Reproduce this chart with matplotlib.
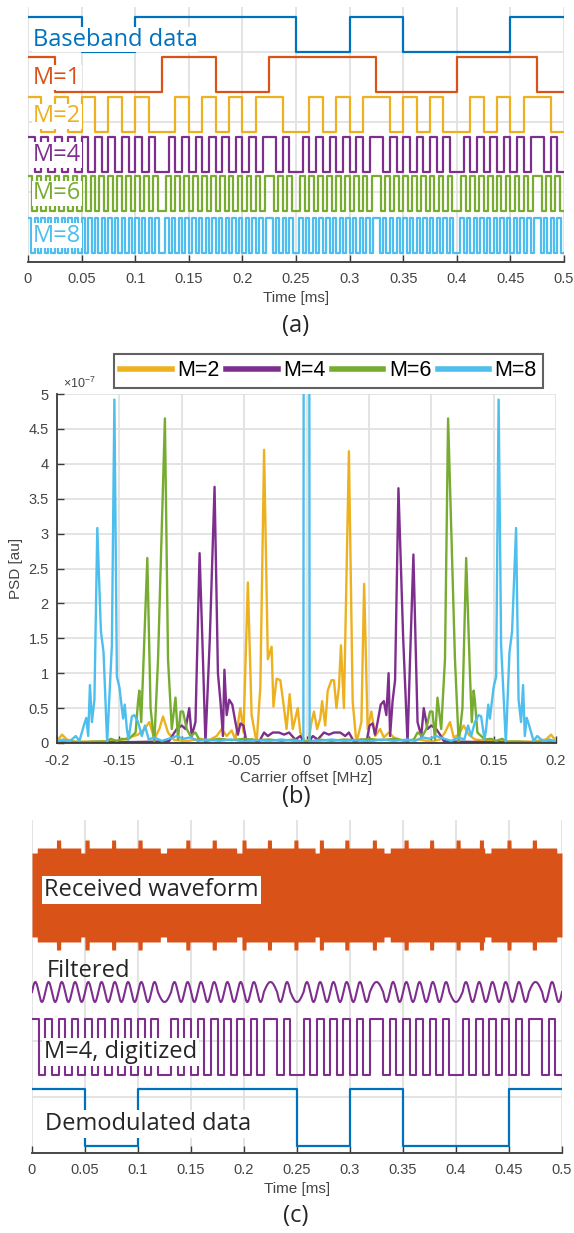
import numpy as np
import matplotlib
matplotlib.use('Agg')
import matplotlib.pyplot as plt
from matplotlib.lines import Line2D

plt.rcParams['mathtext.fontset'] = 'custom'
plt.rcParams['mathtext.rm'] = 'Liberation Sans'

# ---------------- data ----------------
time_ticks = [0, 0.05, 0.1, 0.15, 0.2, 0.25, 0.3, 0.35, 0.4, 0.45, 0.5]
time_ticklabels = ['0', '0.05', '0.1', '0.15', '0.2', '0.25', '0.3', '0.35', '0.4', '0.45', '0.5']
freq_ticks = [-0.2, -0.15, -0.1, -0.05, 0, 0.05, 0.1, 0.15, 0.2]
freq_ticklabels = ['-0.2', '-0.15', '-0.1', '-0.05', '0', '0.05', '0.1', '0.15', '0.2']
psd_ticks = [0, 0.5, 1, 1.5, 2, 2.5, 3, 3.5, 4, 4.5, 5]
psd_ticklabels = ['0', '0.5', '1', '1.5', '2', '2.5', '3', '3.5', '4', '4.5', '5']

# logic levels per equal time slot over 0..0.5 ms
baseband_bits = "1011101001"
m1_levels = "10000110011110001110"
m2_levels = "1010101010010101011001010110101001010110"
m4_levels = ("10101010101010101010" "0101010101010101" "1010" "010101010101"
             "101010101010" "010101010101" "1010")
m6_levels = ("101010101010101010101010101010" "010101010101010101010101" "101010"
             "010101010101010101" "101010101010101010" "010101010101010101" "101010")
m8_levels = ("1010101010101010101010101010101010101010" "01010101010101010101010101010101"
             "10101010" "010101010101010101010101" "101010101010101010101010"
             "010101010101010101010101" "10101010")
m4_digitized = ("10101010101010101010" "0101010101010101" "1010" "010101010101"
                "101010101010" "010101010101" "1010")
demod_bits = "1011101001"

# PSD (units of 1e-7) vs carrier offset (MHz)
m2_f = [-0.2, -0.196, -0.192, -0.186, -0.17, -0.15, -0.142, -0.135, -0.13, -0.126, -0.122, -0.118, -0.115, -0.111,
        -0.106, -0.095, -0.085, -0.078, -0.072, -0.068, -0.064, -0.06, -0.057, -0.053, -0.0505, -0.047, -0.044, -0.04,
        -0.037, -0.034, -0.031, -0.028, -0.0265, -0.024, -0.021, -0.018, -0.016, -0.0135, -0.011, -0.009, -0.007,
        -0.005, -0.002, 0.0, 0.002, 0.004, 0.006, 0.0085, 0.011, 0.0125, 0.015, 0.017, 0.02, 0.022, 0.024, 0.026,
        0.0276, 0.03, 0.034, 0.037, 0.04, 0.044, 0.0462, 0.049, 0.052, 0.055, 0.059, 0.062, 0.066, 0.07, 0.078,
        0.09, 0.1, 0.107, 0.111, 0.115, 0.118, 0.122, 0.126, 0.13, 0.135, 0.145, 0.16, 0.18, 0.192, 0.196, 0.2]
m2_p = [0.02, 0.12, 0.05, 0.02, 0.02, 0.03, 0.08, 0.12, 0.2, 0.3, 0.06, 0.2, 0.38, 0.15,
        0.04, 0.03, 0.06, 0.04, 0.1, 0.2, 0.1, 0.18, 0.05, 0.5, 0.15, 2.3, 0.4, 0.0,
        0.8, 4.2, 1.2, 1.38, 0.52, 0.92, 0.9, 0.5, 0.2, 0.7, 0.2, 0.35, 0.5,
        0.15, 0.05, 0.0, 0.06, 0.3, 0.45, 0.2, 0.35, 0.6, 0.25, 0.75, 0.9, 0.9, 0.5, 0.8,
        1.4, 0.5, 4.18, 0.6, 0.0, 0.3, 2.28, 0.2, 0.45, 0.1, 0.2, 0.08, 0.15, 0.08, 0.03,
        0.05, 0.02, 0.05, 0.15, 0.3, 0.08, 0.12, 0.25, 0.12, 0.05, 0.03, 0.02, 0.02, 0.05, 0.12, 0.03]

m4_f = [-0.2, -0.15, -0.12, -0.11, -0.107, -0.104, -0.1, -0.097, -0.094, -0.092, -0.089, -0.0857, -0.083, -0.081,
        -0.0775, -0.0737, -0.071, -0.069, -0.067, -0.0658, -0.064, -0.062, -0.0595, -0.057, -0.055, -0.053, -0.0505,
        -0.048, -0.044, -0.038, -0.034, -0.031, -0.027, -0.022, -0.018, -0.014, -0.009, -0.005, -0.0015,
        0.0015, 0.005, 0.009, 0.014, 0.018, 0.022, 0.027, 0.031, 0.034, 0.038, 0.044, 0.048, 0.0505, 0.053, 0.055,
        0.057, 0.0595, 0.062, 0.064, 0.0658, 0.067, 0.069, 0.071, 0.0737, 0.0775, 0.081, 0.083, 0.0857, 0.089,
        0.092, 0.094, 0.097, 0.1, 0.104, 0.107, 0.11, 0.12, 0.15, 0.2]
m4_p = [0.01, 0.01, 0.02, 0.03, 0.12, 0.2, 0.25, 0.2, 0.5, 0.1, 0.3, 2.72, 1.2, 0.0,
        1.5, 3.67, 1.0, 0.6, 0.1, 1.05, 0.4, 0.62, 0.55, 0.3, 0.12, 0.28, 0.25,
        0.0, 0.05, 0.02, 0.15, 0.1, 0.15, 0.15, 0.12, 0.15, 0.05, 0.1, 0.0,
        0.0, 0.1, 0.05, 0.15, 0.12, 0.15, 0.15, 0.1, 0.15, 0.02, 0.05, 0.0, 0.25, 0.28, 0.12,
        0.3, 0.55, 0.6, 0.4, 1.0, 0.1, 0.6, 0.9, 3.65, 1.5, 0.0, 1.2, 2.7, 0.3,
        0.1, 0.5, 0.2, 0.25, 0.2, 0.12, 0.03, 0.02, 0.01, 0.01]

m6_f = [-0.2, -0.19, -0.18, -0.17, -0.16, -0.157, -0.152, -0.148, -0.143, -0.14, -0.137, -0.135, -0.134, -0.1325,
        -0.131, -0.1276, -0.125, -0.122, -0.119, -0.1135, -0.111, -0.108, -0.105, -0.103, -0.101, -0.099, -0.096,
        -0.093, -0.089, -0.086, -0.08, -0.07, -0.06, -0.05, -0.04, -0.03, -0.02, -0.01, -0.003,
        0.003, 0.01, 0.02, 0.03, 0.04, 0.05, 0.06, 0.07, 0.08, 0.086, 0.089, 0.093, 0.096, 0.099, 0.101, 0.103,
        0.105, 0.108, 0.111, 0.1135, 0.119, 0.122, 0.125, 0.128, 0.131, 0.1325, 0.134, 0.135, 0.137, 0.14, 0.143,
        0.148, 0.152, 0.157, 0.16, 0.17, 0.18, 0.19, 0.2]
m6_p = [0.01, 0.02, 0.01, 0.02, 0.02, 0.06, 0.03, 0.06, 0.05, 0.1, 0.15, 0.6, 0.75, 0.3,
        1.0, 2.65, 0.5, 0.0, 1.2, 4.65, 1.2, 0.2, 0.65, 0.05, 0.45, 0.45, 0.2,
        0.1, 0.15, 0.05, 0.03, 0.06, 0.04, 0.06, 0.04, 0.05, 0.03, 0.05, 0.02,
        0.02, 0.05, 0.03, 0.05, 0.04, 0.06, 0.04, 0.06, 0.03, 0.05, 0.15, 0.1, 0.2, 0.45, 0.45, 0.05,
        0.65, 0.2, 1.2, 4.65, 1.2, 0.0, 0.5, 2.65, 1.0, 0.3, 0.75, 0.6, 0.15, 0.1, 0.05,
        0.06, 0.03, 0.06, 0.02, 0.02, 0.01, 0.02, 0.01]

m8_f = [-0.2, -0.195, -0.19, -0.185, -0.182, -0.178, -0.1765, -0.175, -0.1736, -0.172, -0.17, -0.1677, -0.1648,
        -0.1627, -0.1598, -0.156, -0.154, -0.152, -0.15, -0.147, -0.1457, -0.144, -0.1427, -0.14, -0.138, -0.135,
        -0.132, -0.1295, -0.1265, -0.122, -0.116, -0.107, -0.104, -0.099, -0.093, -0.087, -0.081, -0.07, -0.06,
        -0.05, -0.04, -0.03, -0.02, -0.01, -0.0025, 0.0, 0.0025, 0.01, 0.02, 0.03, 0.04, 0.05, 0.06, 0.07, 0.081,
        0.087, 0.093, 0.099, 0.104, 0.107, 0.116, 0.122, 0.1265, 0.1295, 0.132, 0.135, 0.138, 0.14, 0.1427, 0.144,
        0.1457, 0.147, 0.15, 0.152, 0.154, 0.156, 0.1598, 0.1627, 0.1648, 0.168, 0.17, 0.172, 0.1736, 0.175, 0.1765,
        0.178, 0.182, 0.185, 0.19, 0.195, 0.2]
m8_p = [0.02, 0.05, 0.02, 0.1, 0.03, 0.28, 0.36, 0.1, 0.83, 0.3, 0.62, 3.08, 1.6,
        1.3, 0.0, 1.4, 4.92, 0.95, 0.8, 0.35, 0.55, 0.2, 0.05, 0.38, 0.4, 0.3,
        0.1, 0.25, 0.05, 0.08, 0.03, 0.08, 0.1, 0.06, 0.08, 0.03, 0.05, 0.03, 0.05,
        0.02, 0.04, 0.03, 0.05, 0.03, 0.02, 60.0, 0.02, 0.03, 0.05, 0.03, 0.04, 0.02, 0.05, 0.03, 0.05,
        0.03, 0.08, 0.06, 0.1, 0.08, 0.03, 0.08, 0.05, 0.25, 0.1, 0.3, 0.4, 0.38, 0.05, 0.2,
        0.55, 0.35, 0.8, 0.95, 4.92, 1.4, 0.0, 1.3, 1.6, 3.08, 0.62, 0.3, 0.83, 0.1, 0.36,
        0.28, 0.03, 0.1, 0.02, 0.05, 0.02]

# received waveform envelope: spike instants and envelope notches (ms)
recv_spikes = [0.025, 0.052, 0.077, 0.102, 0.147, 0.172, 0.2, 0.224, 0.249, 0.273, 0.297, 0.323,
               0.353, 0.377, 0.402, 0.424, 0.45, 0.474]
recv_dips = [0.002, 0.049, 0.124, 0.196, 0.27, 0.335, 0.43, 0.498]

# ---------------- style ----------------
W, H = 574, 1233
fig = plt.figure(figsize=(W / 100, H / 100), dpi=100)

BLUE = '#0072BD'; RED = '#D95319'; YEL = '#EDB120'; PUR = '#7E2F8E'; GRN = '#77AC30'; CYAN = '#4DBEEE'
GRID = '#e2e2e2'; AXC = '#3a3a3a'; TXT = '#262626'; TCK = '#444444'
TF = ['Liberation Sans', 'DejaVu Sans']
LF = ['Open Sans', 'DejaVu Sans']


def add_ax(l, t, r, b):
    return fig.add_axes([l / W, 1 - b / H, (r - l) / W, (b - t) / H])


def time_axis(ax):
    ax.set_xlim(0, 0.5)
    ax.set_xticks(time_ticks)
    ax.set_xticklabels(time_ticklabels, fontfamily=TF, fontsize=10.5, color=TCK)
    for s in ['left', 'right', 'top']:
        ax.spines[s].set_visible(False)
    ax.spines['bottom'].set_color(AXC)
    ax.spines['bottom'].set_linewidth(1.3)
    ax.tick_params(axis='x', direction='in', length=5, width=1.0, color=AXC, pad=7)
    ax.tick_params(axis='y', left=False, labelleft=False)
    ax.grid(True, color=GRID, linewidth=1.3)
    ax.set_axisbelow(True)
    ax.set_xlabel('Time [ms]', fontfamily=TF, fontsize=11, color=TCK, labelpad=4)


def step_sig(ax, s, lo, color, lw=1.6, amp=1.0):
    v = [int(c) for c in s]
    t = np.linspace(0, 0.5, len(v) + 1)
    ax.step(t, amp * np.array(v + [v[-1]]) + lo, where='post', color=color, lw=lw, zorder=2)


def label(ax, x, y, txt, color):
    ax.text(x, y, txt, color=color, fontfamily=LF, fontsize=17, va='center', ha='left', zorder=5,
            bbox=dict(facecolor='white', edgecolor='none', pad=0.5))

# ---------------- panel (a) ----------------
axa = add_ax(28, 7, 564, 262)
time_axis(axa)
axa.set_ylim(0, 7.29)
axa.set_yticks([0, 2, 4, 6])
step_sig(axa, baseband_bits, 6.0, BLUE)
step_sig(axa, m1_levels, 4.86, RED)
step_sig(axa, m2_levels, 3.73, YEL)
step_sig(axa, m4_levels, 2.58, PUR)
step_sig(axa, m6_levels, 1.45, GRN)
step_sig(axa, m8_levels, 0.26, CYAN)
label(axa, 0.0047, 6.36, 'Baseband data', BLUE)
label(axa, 0.0047, 5.27, 'M=1', RED)
label(axa, 0.0047, 4.16, 'M=2', YEL)
label(axa, 0.0047, 3.06, 'M=4', PUR)
label(axa, 0.0047, 1.96, 'M=6', GRN)
label(axa, 0.0047, 0.75, 'M=8', CYAN)
fig.text(296 / W, 1 - 326 / H, '(a)', fontfamily=LF, fontsize=17, color=TXT, ha='center', va='center')

# ---------------- panel (b) ----------------
axb = add_ax(57, 394, 556, 743)
axb.set_xlim(-0.2, 0.2)
axb.set_ylim(0, 5)
axb.set_xticks(freq_ticks)
axb.set_xticklabels(freq_ticklabels, fontfamily=TF, fontsize=10.5, color=TCK)
axb.set_yticks(psd_ticks)
axb.set_yticklabels(psd_ticklabels, fontfamily=TF, fontsize=10.5, color=TCK)
for s in ['right', 'top']:
    axb.spines[s].set_visible(False)
for s in ['left', 'bottom']:
    axb.spines[s].set_color(AXC)
    axb.spines[s].set_linewidth(1.3)
axb.tick_params(direction='in', length=5, width=1.0, color=AXC)
axb.tick_params(axis='x', pad=8)
axb.tick_params(axis='y', pad=6)
axb.grid(True, color=GRID, linewidth=1.3)
axb.set_axisbelow(True)
lw_psd = 1.7
axb.plot(m2_f, m2_p, color=YEL, lw=lw_psd)
axb.plot(m4_f, m4_p, color=PUR, lw=lw_psd)
axb.plot(m6_f, m6_p, color=GRN, lw=lw_psd)
axb.plot(m8_f, m8_p, color=CYAN, lw=lw_psd)
axb.set_xlabel('Carrier offset [MHz]', fontfamily=TF, fontsize=11, color=TCK, labelpad=2)
axb.set_ylabel('PSD [au]', fontfamily=TF, fontsize=11, color=TCK, labelpad=4)
fig.text(63 / W, 1 - 383 / H, r'$\times10^{-7}$', fontsize=9, color=TCK, ha='left', va='center')
hl = [Line2D([], [], color=c, lw=4) for c in (YEL, PUR, GRN, CYAN)]
leg = fig.legend(hl, ['M=2', 'M=4', 'M=6', 'M=8'], loc='center', ncol=4,
                 bbox_to_anchor=(328.5 / W, 1 - 371 / H), frameon=True, fancybox=False,
                 prop={'family': TF, 'size': 15.5}, handlelength=2.4, handletextpad=0.25,
                 columnspacing=0.3, borderpad=0.3)
leg.get_frame().set_edgecolor(AXC)
leg.get_frame().set_linewidth(1.5)
fig.text(296 / W, 1 - 797 / H, '(b)', fontfamily=LF, fontsize=17, color=TXT, ha='center', va='center')

# ---------------- panel (c) ----------------
axc = add_ax(32, 820, 562, 1153)
time_axis(axc)
axc.set_ylim(0, 333)
axc.set_yticks([0, 56, 112])

# received waveform (filled envelope)
tt = np.linspace(0, 0.5, 4001)
env = np.full_like(tt, 47.0)
for s in recv_dips:
    env[np.abs(tt - s) < 0.003] = 42.0
for s in recv_spikes:
    env[np.abs(tt - s) < 0.002] = 55.0
axc.fill_between(tt, 258 - env, 258 + env, color=RED, lw=0, zorder=2)

# filtered signal (arcs between zero crossings of digitized code)
v = [int(c) for c in m4_digitized]
n = len(v)
edges = [0]
for k in range(1, n):
    if v[k] != v[k - 1]:
        edges.append(k)
edges.append(n)
fx, fy = [], []
for a, b in zip(edges[:-1], edges[1:]):
    ta, tb = a * 0.5 / n, b * 0.5 / n
    ts = np.linspace(ta, tb, 20)
    sgn = 1 if v[a] else -1
    fx.extend(ts)
    fy.extend(161 + sgn * 10 * np.sin(np.pi * (ts - ta) / (tb - ta)))
axc.plot(fx, fy, color=PUR, lw=1.5, zorder=2)

step_sig(axc, m4_digitized, 78, PUR, lw=1.5, amp=56)
step_sig(axc, demod_bits, 7, BLUE, lw=1.6, amp=57)


def clabel(x, y, txt, box=True):
    kw = dict(color=TXT, fontfamily=LF, fontsize=17, va='center', ha='left', zorder=5)
    if box:
        kw['bbox'] = dict(facecolor='white', edgecolor='none', pad=1.5)
    axc.text(x, y, txt, **kw)


clabel(0.0115, 263, 'Received waveform')
clabel(0.014, 182, 'Filtered', box=False)
clabel(0.0115, 101, 'M=4, digitized')
clabel(0.0125, 29, 'Demodulated data')
fig.text(296 / W, 1 - 1216 / H, '(c)', fontfamily=LF, fontsize=17, color=TXT, ha='center', va='center')

fig.savefig('out.png', dpi=100)
